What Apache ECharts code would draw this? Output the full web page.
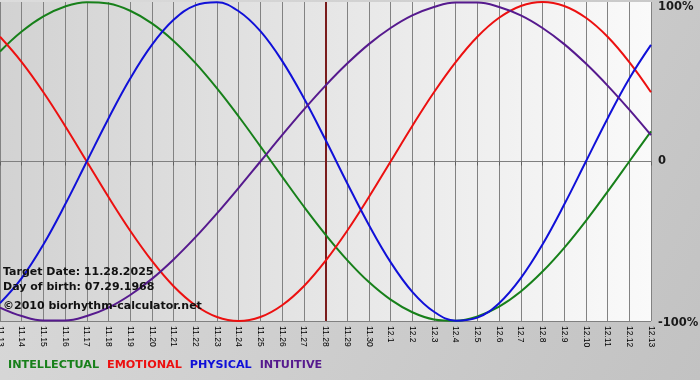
<!DOCTYPE html>
<html>
<head>
<meta charset="utf-8">
<script src="https://cdn.jsdelivr.net/npm/echarts@6/dist/echarts.min.js"></script>
<style>
html,body{margin:0;padding:0;}
#chart{width:700px;height:380px;}
</style>
</head>
<body>
<div id="chart"></div>
<script>
var dates = ['11.13','11.14','11.15','11.16','11.17','11.18','11.19','11.20','11.21','11.22','11.23','11.24','11.25','11.26','11.27','11.28','11.29','11.30','12.1','12.2','12.3','12.4','12.5','12.6','12.7','12.8','12.9','12.10','12.11','12.12','12.13'];
var intellectual = [69.0,81.5,91.0,97.2,99.9,99.0,94.5,86.6,75.6,61.8,45.8,28.2,9.5,-9.5,-28.2,-45.8,-61.8,-75.6,-86.6,-94.5,-99.0,-99.9,-97.2,-91.0,-81.5,-69.0,-54.1,-37.2,-18.9,0.0,18.9];
var emotional = [78.2,62.3,43.4,22.3,0.0,-22.3,-43.4,-62.3,-78.2,-90.1,-97.5,-100.0,-97.5,-90.1,-78.2,-62.3,-43.4,-22.3,0.0,22.3,43.4,62.3,78.2,90.1,97.5,100.0,97.5,90.1,78.2,62.3,43.4];
var physical = [-88.8,-73.1,-52.0,-27.0,0.0,27.0,52.0,73.1,88.8,97.9,99.8,94.2,81.7,63.1,39.8,13.6,-13.6,-39.8,-63.1,-81.7,-94.2,-99.8,-97.9,-88.8,-73.1,-52.0,-27.0,0.0,27.0,52.0,73.1];
var intuitive = [-91.6,-96.9,-99.7,-99.7,-96.9,-91.6,-83.7,-73.6,-61.4,-47.6,-32.5,-16.5,0.0,16.5,32.5,47.6,61.4,73.6,83.7,91.6,96.9,99.7,99.7,96.9,91.6,83.7,73.6,61.4,47.6,32.5,16.5];
var yTicks = {'100':'100%','0':'0','-100':'-100%'};
var targetDate = '11.28';
var infoLines = ['Target Date: 11.28.2025','Day of birth: 07.29.1968','\u00a92010 biorhythm-calculator.net'];
var seriesNames = ['INTELLECTUAL','EMOTIONAL','PHYSICAL','INTUITIVE'];
var seriesColors = ['#17801a','#ec1010','#1010d8','#561a8e'];
var seriesData = [intellectual, emotional, physical, intuitive];

var chart = echarts.init(document.getElementById('chart'), null, {renderer:'canvas'});
var FONT = 'DejaVu Sans';
var series = seriesNames.map(function(n,i){
  var s = {
    name:n, type:'line', data:seriesData[i], smooth:0.4, symbol:'none',
    lineStyle:{color:seriesColors[i], width:2}, itemStyle:{color:seriesColors[i]},
    animation:false, z:3
  };
  if(i===0){
    s.markLine = {symbol:'none', silent:true, animation:false, label:{show:false},
      lineStyle:{color:'#7a1c1c', width:2, type:'solid'}, data:[{xAxis:targetDate}], z:2};
  }
  return s;
});
var labelStyle = {fontFamily:FONT, fontWeight:'bold', fontSize:11.5, color:'#1a1a1a'};
var option = {
  animation:false,
  backgroundColor:{type:'linear',x:0,y:0,x2:1,y2:1,colorStops:[{offset:0,color:'#dcdcdc'},{offset:1,color:'#c2c2c2'}]},
  grid:{left:0,right:49,top:2,bottom:59,show:true,borderWidth:0,containLabel:false,outerBoundsMode:'none',
    backgroundColor:{type:'linear',x:0,y:0,x2:1,y2:0,colorStops:[{offset:0,color:'#d2d2d2'},{offset:1,color:'#fafafa'}]}},
  legend:{
    left:-2, top:355, itemWidth:0, itemHeight:0, itemGap:3, icon:'rect', selectedMode:false,
    data:seriesNames.map(function(n,i){return {name:n, textStyle:{color:seriesColors[i]}};}),
    textStyle:{fontFamily:FONT, fontWeight:'bold', fontSize:11.2, padding:[0,0,0,0]}
  },
  xAxis:{
    type:'category', data:dates, boundaryGap:false,
    axisLine:{show:true, lineStyle:{color:'#808080', width:1}},
    axisTick:{show:true, length:4, interval:0, lineStyle:{color:'#606060'}},
    axisLabel:{interval:0, rotate:-90, fontSize:8.5, fontFamily:'Liberation Sans', color:'#000', margin:5},
    splitLine:{show:true, interval:0, lineStyle:{color:'#828282', width:1}}
  },
  yAxis:{
    type:'value', position:'right', min:-100, max:100, interval:100,
    axisLine:{show:false}, axisTick:{show:false},
    axisLabel:{fontFamily:FONT, fontWeight:'bold', fontSize:11.5, color:'#1a1a1a', margin:7,
      formatter:function(v){
        if(v===100) return '{t|'+yTicks['100']+'}';
        if(v===-100) return '{b|'+yTicks['-100']+'}';
        return yTicks[String(v)];
      },
      rich:{
        t:Object.assign({padding:[10,0,0,0]}, labelStyle),
        b:Object.assign({padding:[4,0,0,0]}, labelStyle)
      }},
    splitLine:{show:true, lineStyle:{color:['#808080','#808080','rgba(0,0,0,0)'], width:1}}
  },
  graphic: infoLines.map(function(t,i){
    return {type:'text', left:3, top:[267,282,301][i], z:10, silent:true,
      style:{text:t, fill:'#111', font:'bold 11px "DejaVu Sans"'}};
  }),
  series:series
};
chart.setOption(option);
</script>
</body>
</html>
